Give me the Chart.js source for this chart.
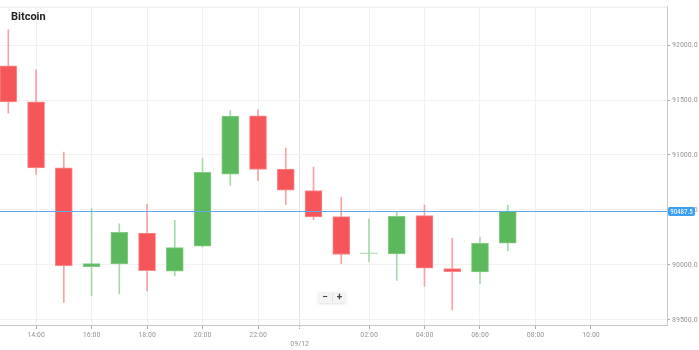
<!DOCTYPE html>
<html>
<head>
<meta charset="utf-8">
<script src="https://cdn.jsdelivr.net/npm/chart.js@4.4.1/dist/chart.umd.min.js"></script>
<style>
  html, body { margin: 0; padding: 0; background: #fff; }
  #grafico { display: block; }
</style>
</head>
<body>
<canvas id="grafico" width="699" height="350"></canvas>
<script>
// Datos de las velas (hora del día, 24+ = día siguiente)
const horas  = [13, 14, 15, 16, 17, 18, 19, 20, 21, 22, 23, 24, 25, 26, 27, 28, 29, 30, 31];
const aperturas = [91813, 91484, 90883, 89982, 90006, 90288, 89940, 90168, 90826, 91357, 90871, 90676, 90438, 90100, 90099, 90447, 89964, 89934, 90195];
const cierres   = [91484, 90883, 89991, 90009, 90294, 89946, 90156, 90841, 91354, 90868, 90679, 90435, 90093, 90108, 90441, 89967, 89936, 90195, 90487.5];
const maximos   = [92144, 91777, 91027, 90511, 90372, 90552, 90405, 90967, 91405, 91412, 91063, 90889, 90615, 90417, 90484, 90543, 90243, 90252, 90543];
const minimos   = [91381, 90823, 89655, 89718, 89733, 89760, 89898, 90160, 90723, 90766, 90547, 90408, 90009, 90027, 89856, 89802, 89586, 89826, 90126];

const precioActual = 90487.5;
const titulo = "Bitcoin";

// Etiquetas de los ejes
const ticksHoras = [14, 16, 18, 20, 22, 23.5, 26, 28, 30, 32, 34];
const ticksTexto = ["14:00", "16:00", "18:00", "20:00", "22:00", ["", "09/12"], "02:00", "04:00", "06:00", "08:00", "10:00"];
const ticksPrecio = [89500, 90000, 90500, 91000, 91500, 92000];

const rojo = "#f65659";
const rojoBorde = "#f88b8c";
const rojoMecha = "#f8a2a3";
const verde = "#5cb85c";
const verdeBorde = "#86cb86";
const verdeMecha = "#a9d9a8";

const fuenteEjes = "'Liberation Sans Narrow', 'Roboto Condensed', Roboto, sans-serif";

const sube = horas.map((h, i) => cierres[i] >= aperturas[i]);

// Plugin para título, línea de precio y botones de zoom
const extras = {
  id: "extras",
  beforeDatasetsDraw(chart) {
    const { ctx, chartArea } = chart;
    ctx.save();
    ctx.strokeStyle = "#ececec";
    ctx.lineWidth = 1;
    ctx.beginPath();
    ctx.moveTo(chartArea.left, chartArea.top + 0.5);
    ctx.lineTo(chartArea.right, chartArea.top + 0.5);
    ctx.stroke();
    ctx.restore();
  },
  afterDatasetsDraw(chart) {
    const { ctx, chartArea, scales } = chart;
    const y = Math.round(scales.y.getPixelForValue(precioActual));
    ctx.save();
    // línea de precio (rellena, 1 px)
    ctx.fillStyle = "#5ea9ec";
    ctx.fillRect(chartArea.left, y, chartArea.right - chartArea.left, 1);

    // etiqueta del precio
    const bx = chartArea.right + 1, bw = 27, bh = 9;
    ctx.fillStyle = "#3d9ff0";
    ctx.beginPath();
    ctx.roundRect(bx, y + 0.5 - bh / 2, bw, bh, 2);
    ctx.fill();
    ctx.fillStyle = "#fff";
    ctx.font = "7px " + fuenteEjes;
    ctx.textAlign = "center";
    ctx.textBaseline = "middle";
    ctx.fillText(precioActual.toFixed(1), bx + bw / 2, y + 1);

    // título
    ctx.fillStyle = "#222";
    ctx.font = "bold 11px Roboto, sans-serif";
    ctx.textAlign = "left";
    ctx.textBaseline = "alphabetic";
    ctx.fillText(titulo, 11, 20);

    // botones de zoom
    const zx = 318, zy = 292;
    ctx.shadowColor = "rgba(0,0,0,0.12)";
    ctx.shadowBlur = 2;
    ctx.shadowOffsetY = 1;
    ctx.fillStyle = "#f4f4f4";
    ctx.fillRect(zx, zy, 28, 11);
    ctx.shadowColor = "transparent";
    ctx.strokeStyle = "#e2e2e2";
    ctx.beginPath();
    ctx.moveTo(zx + 14.5, zy + 1);
    ctx.lineTo(zx + 14.5, zy + 10);
    ctx.stroke();
    ctx.fillStyle = "#444";
    ctx.font = "bold 10px Roboto, sans-serif";
    ctx.textAlign = "center";
    ctx.textBaseline = "middle";
    ctx.fillText("\u2212", zx + 7, zy + 5.5);
    ctx.fillText("+", zx + 21.5, zy + 5.5);
    ctx.restore();
  }
};

document.addEventListener("DOMContentLoaded", () => {
  const ctx = document.getElementById("grafico").getContext("2d");

  new Chart(ctx, {
    type: "bar",
    data: {
      datasets: [
        {
          // cuerpos
          order: 0,
          data: horas.map((h, i) => ({ x: h, y: [aperturas[i], cierres[i]] })),
          backgroundColor: sube.map((s, i) => i === 13 ? verdeMecha : (s ? verde : rojo)),
          borderColor: sube.map((s, i) => i === 13 ? verdeMecha : (s ? verdeBorde : rojoBorde)),
          borderWidth: 1,
          borderSkipped: false,
          barThickness: 17,
          grouped: false
        },
        {
          // mechas
          order: 1,
          data: horas.map((h, i) => ({ x: h, y: [minimos[i], maximos[i]] })),
          backgroundColor: sube.map(s => s ? verdeMecha : rojoMecha),
          borderWidth: 0,
          barThickness: 1,
          grouped: false
        }
      ]
    },
    options: {
      responsive: false,
      animation: false,
      layout: { padding: { top: 3, left: 0, right: 0, bottom: 0 } },
      plugins: {
        legend: { display: false },
        tooltip: { enabled: false }
      },
      scales: {
        x: {
          type: "linear",
          offset: false,
          min: 12.7,
          max: 36.74,
          afterBuildTicks: (scale) => {
            scale.ticks = ticksHoras.map(v => ({ value: v }));
          },
          afterFit: (scale) => { scale.height = 25; },
          border: { color: "#c8c8c8" },
          grid: {
            offset: false,
            color: (c) => c.tick && c.tick.value === 23.5 ? "#e0e0e0" : "#f1f1f1",
            tickColor: "#aaa",
            tickLength: 4,
            tickBorderDash: (c) => c.tick && c.tick.value === 23.5 ? [1, 1] : []
          },
          ticks: {
            autoSkip: false,
            maxRotation: 0,
            padding: 1,
            color: "#999",
            font: { family: fuenteEjes, size: 8 },
            callback: (v) => {
              const i = ticksHoras.indexOf(v);
              return i >= 0 ? ticksTexto[i] : "";
            }
          }
        },
        y: {
          position: "right",
          min: 89450,
          max: 92351,
          afterBuildTicks: (scale) => {
            scale.ticks = ticksPrecio.map(v => ({ value: v }));
          },
          afterFit: (scale) => { scale.width = 32; },
          border: { color: "#c8c8c8" },
          grid: {
            color: "#f1f1f1",
            tickColor: "#aaa",
            tickLength: 3
          },
          ticks: {
            padding: 2,
            color: "#999",
            font: { family: fuenteEjes, size: 8 },
            callback: (v) => v.toFixed(1)
          }
        }
      }
    },
    plugins: [extras]
  });
});
</script>
</body>
</html>
